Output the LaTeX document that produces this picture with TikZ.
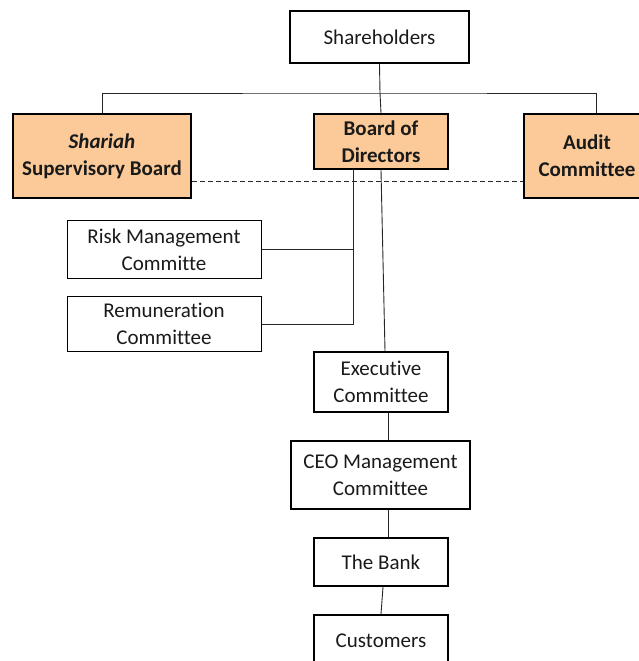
\documentclass[tikz,border=0pt]{standalone}
\usepackage{fontspec}
\setmainfont{Carlito}[Ligatures=NoCommon]
\definecolor{peach}{HTML}{FBCA98}
\definecolor{ink}{HTML}{1A1A1A}
\begin{document}
\begin{tikzpicture}[x=1pt,y=-1pt,
  box/.style={draw=black, line width=2.2pt, align=center, inner sep=0pt, text=ink,
    font=\fontsize{21}{27}\selectfont},
  thinbox/.style={box, line width=1pt},
  orange/.style={box, fill=peach, font=\fontsize{21}{27}\selectfont\bfseries},
  conn/.style={draw=black!85, line width=0.9pt}]
\useasboundingbox (0,0) rectangle (638,661);
\node[box, minimum width=179pt, minimum height=52pt] (sh) at (379.5,37) {Shareholders};
\node[orange, minimum width=178pt, minimum height=84pt] (ssb) at (102,156) {\textit{Shariah}\\Supervisory Board};
\node[orange, minimum width=134pt, minimum height=55pt] (bod) at (381,141.5) {Board of\\Directors};
\node[orange, minimum width=126pt, minimum height=84pt] (aud) at (587,156) {Audit\\Committee};
\node[thinbox, minimum width=194pt, minimum height=58pt] (rmc) at (164,249.5) {Risk Management\\Committe};
\node[thinbox, minimum width=194pt, minimum height=55pt] (rem) at (164,324) {Remuneration\\Committee};
\node[box, minimum width=134pt, minimum height=60pt] (exe) at (381,382) {Executive\\Committee};
\node[box, minimum width=179pt, minimum height=68pt] (ceo) at (380.5,475) {CEO Management\\Committee};
\node[box, minimum width=134pt, minimum height=48pt] (bank) at (381,562) {The Bank};
\node[box, minimum width=134pt, minimum height=52pt] (cust) at (381,641) {Customers};
\coordinate (bus) at (380,93);
\draw[conn] (sh.south) -- (bus);
\draw[conn] (ssb.north) |- (bus) -| ([xshift=9pt]aud.north);
\draw[conn] (bus) -- (bod.north);
\draw[conn, dashed, dash pattern=on 5pt off 3pt] ([yshift=-25pt]ssb.east) -- ([yshift=-25pt]aud.west);
\draw[conn] ([xshift=-28pt]bod.south) |- (rem.east);
\draw[conn] (rmc.east) -- ([xshift=-28pt]bod.south |- rmc.east);
\draw[conn] (bod.south) -- ([xshift=4pt]exe.north);
\draw[conn] ([xshift=7pt]exe.south) -- ([xshift=7.5pt]ceo.north);
\draw[conn] ([xshift=7.5pt]ceo.south) -- ([xshift=7pt]bank.north);
\draw[conn] ([xshift=2pt]bank.south) -- (cust.north);
\end{tikzpicture}
\end{document}
